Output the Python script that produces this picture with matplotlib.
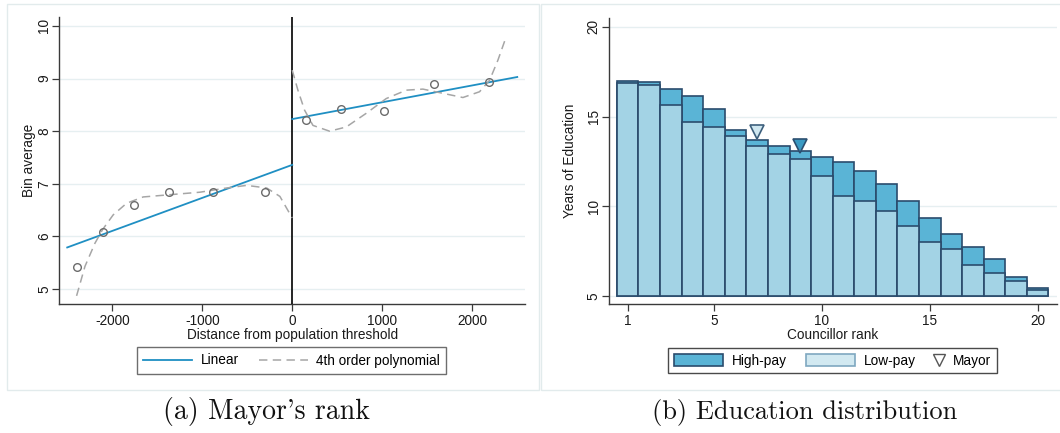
import matplotlib
matplotlib.use("Agg")
import matplotlib.pyplot as plt
from matplotlib.patches import Rectangle, Patch
from matplotlib.lines import Line2D

plt.rcParams['font.family'] = ['Liberation Sans', 'DejaVu Sans']

# ---------------- Data: panel (a) ----------------
bin_x = [-2389, -2107, -1759, -1373, -884, -303, 156, 538, 1022, 1578, 2182]
bin_y = [5.42, 6.08, 6.60, 6.84, 6.85, 6.84, 8.21, 8.42, 8.38, 8.90, 8.93]

lin_left_x = [-2500, 0]
lin_left_y = [5.79, 7.36]
lin_right_x = [0, 2500]
lin_right_y = [8.23, 9.03]

poly_left_x = [-2396, -2303, -2192, -2107, -1989, -1840, -1656, -1378, -1026,
               -729, -507, -284, -137, 0]
poly_left_y = [4.87, 5.43, 5.87, 6.13, 6.41, 6.63, 6.75, 6.79, 6.84,
               6.92, 6.97, 6.92, 6.76, 6.35]
poly_right_x = [0, 63, 137, 230, 415, 600, 822, 1044, 1267, 1452, 1674, 1896,
                2081, 2193, 2285, 2378]
poly_right_y = [9.16, 8.78, 8.40, 8.11, 8.00, 8.08, 8.34, 8.62, 8.78, 8.80,
                8.72, 8.64, 8.75, 8.97, 9.35, 9.80]

left_yticks = [5, 6, 7, 8, 9, 10]
left_xticks = [-2000, -1000, 0, 1000, 2000]

# ---------------- Data: panel (b) ----------------
ranks = list(range(1, 21))
high_pay = [16.99, 16.95, 16.54, 16.17, 15.41, 14.26, 13.72, 13.38, 13.10, 12.73,
            12.45, 11.99, 11.23, 10.28, 9.33, 8.46, 7.71, 7.04, 6.04, 5.43]
low_pay = [16.90, 16.77, 15.63, 14.72, 14.41, 13.94, 13.38, 12.90, 12.66, 11.69,
           10.60, 10.30, 9.76, 8.92, 7.99, 7.60, 6.75, 6.26, 5.86, 5.35]
mayor_low_rank, mayor_low_val = 7, 14.15
mayor_high_rank, mayor_high_val = 9, 13.35
right_yticks = [5, 10, 15, 20]
right_xticks = [1, 5, 10, 15, 20]
bar_base = 5

# ---------------- Style ----------------
W, H = 1060, 433
lin_color = '#1f8fc3'
poly_color = '#a6a6a6'
high_color = '#5ab4d6'
low_color = (192/255, 224/255, 235/255, 0.72)
edge_color = '#2a4c6d'
grid_color = '#e6eff1'
spine_color = '#3a3a3a'
text_color = '#1a1a1a'
fs = 9.8

fig = plt.figure(figsize=(W/100, H/100), dpi=100)

def fx(px):
    return px / W

def fy(py):
    return 1 - py / H

# panel borders
for (x0, x1) in [(7.3, 538.7), (540.5, 1062)]:
    fig.patches.append(Rectangle((fx(x0), fy(390)), fx(x1) - fx(x0), fy(4.3) - fy(390),
                                 transform=fig.transFigure, fill=False,
                                 edgecolor='#e2ebec', lw=1.0))

def style_axes(ax):
    for s in ['top', 'right']:
        ax.spines[s].set_visible(False)
    for s in ['left', 'bottom']:
        ax.spines[s].set_color(spine_color)
        ax.spines[s].set_linewidth(1.0)
    ax.tick_params(axis='both', direction='out', length=5, width=0.9,
                   color=spine_color, labelsize=fs, labelcolor=text_color)
    ax.tick_params(axis='x', pad=2.0)
    ax.tick_params(axis='y', pad=1.0)
    ax.yaxis.grid(True, color=grid_color, lw=1.0)
    ax.set_axisbelow(True)
    for lab in ax.get_yticklabels():
        lab.set_rotation(90)
        lab.set_va('center')
        lab.set_ha('right')

# ---------------- Panel (a) ----------------
axL = fig.add_axes([fx(59.3), fy(304), fx(525) - fx(59.3), fy(17.3) - fy(304)])
axL.set_xlim(-2588, 2586)
axL.set_ylim(4.715, 10.165)
axL.set_yticks(left_yticks)
axL.set_xticks(left_xticks)
axL.set_xticklabels([str(v) for v in left_xticks])
style_axes(axL)

axL.axvline(0, color='black', lw=1.2, zorder=3)
axL.plot(lin_left_x, lin_left_y, color=lin_color, lw=1.3, zorder=4)
axL.plot(lin_right_x, lin_right_y, color=lin_color, lw=1.3, zorder=4)
axL.plot(poly_left_x, poly_left_y, color=poly_color, lw=1.1, dashes=(5.5, 3.5), zorder=4)
axL.plot(poly_right_x, poly_right_y, color=poly_color, lw=1.1, dashes=(5.5, 3.5), zorder=4)
axL.plot(bin_x, bin_y, ls='none', marker='o', ms=5.5, mfc='none', mec='#6b6b6b',
         mew=1.0, zorder=5)

axL.set_xlabel('Distance from population threshold', fontsize=fs, color=text_color)
axL.xaxis.set_label_coords(0.5, (304 - 335) / (304 - 17.3))
axL.xaxis.label.set_va('center')
axL.set_ylabel('Bin average', fontsize=fs, color=text_color)
axL.yaxis.set_label_coords((29 - 59.3) / (525 - 59.3), 0.5)
axL.yaxis.label.set_va('center')

legL = fig.legend(handles=[Line2D([], [], color=lin_color, lw=1.3),
                           Line2D([], [], color=poly_color, lw=1.1, dashes=(5.5, 3.5))],
                  labels=['Linear', '4th order polynomial'], ncol=2,
                  loc='center', bbox_to_anchor=(fx(291.7), fy(360.5)),
                  fontsize=fs, frameon=True, fancybox=False, edgecolor='#4a4a4a',
                  handlelength=3.6, columnspacing=1.5, handletextpad=0.6,
                  borderpad=0.45)
legL.get_frame().set_linewidth(1.0)

# ---------------- Panel (b) ----------------
axR = fig.add_axes([fx(609), fy(304), fx(1056.7) - fx(609), fy(18.3) - fy(304)])
axR.set_xlim(0.133, 20.88)
axR.set_ylim(4.554, 20.485)
axR.set_yticks(right_yticks)
axR.set_xticks(right_xticks)
style_axes(axR)

hp_h = [v - bar_base for v in high_pay]
lp_h = [v - bar_base for v in low_pay]
axR.bar(ranks, hp_h, bottom=bar_base, width=1.0, color=high_color,
        edgecolor=edge_color, lw=1.2, zorder=2)
axR.bar(ranks, lp_h, bottom=bar_base, width=1.0, color=low_color,
        edgecolor=edge_color, lw=1.2, zorder=3)
axR.plot([mayor_low_rank], [mayor_low_val], marker='v', ms=9.5, mfc='#cfe7f0',
         mec='#3d5f7c', mew=1.2, ls='none', zorder=5)
axR.plot([mayor_high_rank], [mayor_high_val], marker='v', ms=9.5, mfc='#3a9ac3',
         mec='#2c4f70', mew=1.2, ls='none', zorder=5)

axR.set_xlabel('Councillor rank', fontsize=fs, color=text_color)
axR.xaxis.set_label_coords(0.5, (304 - 335) / (304 - 18.3))
axR.xaxis.label.set_va('center')
axR.set_ylabel('Years of Education', fontsize=fs, color=text_color)
axR.yaxis.set_label_coords((570 - 609) / (1056.7 - 609), 0.5)
axR.yaxis.label.set_va('center')

# legend for panel (b): frame + two frameless legends (Mayor entry has a short handle)
fig.patches.append(Rectangle((fx(668.3), fy(373.3)), fx(997.3) - fx(668.3),
                             fy(348.3) - fy(373.3), transform=fig.transFigure,
                             fill=False, edgecolor='#4a4a4a', lw=1.0, zorder=5))
legR1 = fig.legend(handles=[Patch(facecolor=high_color, edgecolor=edge_color, lw=1.2),
                            Patch(facecolor='#d2e9f1', edgecolor='#7fa8c0', lw=1.2)],
                   labels=['High-pay', 'Low-pay'], ncol=2,
                   loc='center left', bbox_to_anchor=(fx(674), fy(361)),
                   fontsize=fs, frameon=False, borderpad=0, borderaxespad=0,
                   handlelength=3.6, handleheight=1.0, columnspacing=1.4,
                   handletextpad=0.65)
legR2 = fig.legend(handles=[Line2D([], [], marker='v', ls='none', ms=9, mfc='none',
                                   mec='#555555', mew=1.0)],
                   labels=['Mayor'], loc='center left',
                   bbox_to_anchor=(fx(932), fy(361)),
                   fontsize=fs, frameon=False, borderpad=0, borderaxespad=0,
                   handlelength=1.0, handletextpad=0.55)

# ---------------- Captions ----------------
cap_font = ['cmr10', 'DejaVu Serif']
fig.text(fx(266), fy(412), "(a) Mayor's rank", fontsize=20, family=cap_font,
         ha='center', va='center', color='#111111')
fig.text(fx(805), fy(412), "(b) Education distribution", fontsize=19, family=cap_font,
         ha='center', va='center', color='#111111')

fig.savefig('out.png', dpi=100, facecolor='white')
